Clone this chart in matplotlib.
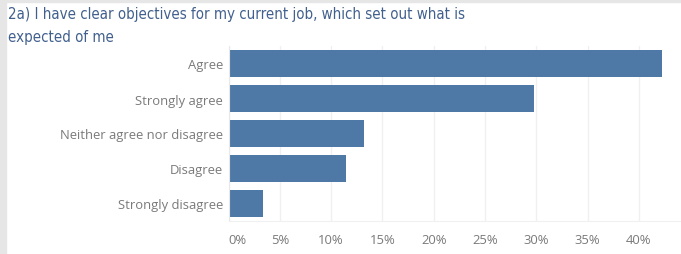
import matplotlib
matplotlib.use('Agg')
import matplotlib.pyplot as plt
from matplotlib.patches import Rectangle

# survey responses, percent of respondents
categories = ['Agree', 'Strongly agree', 'Neither agree nor disagree',
              'Disagree', 'Strongly disagree']
percents = [42.2, 29.8, 13.2, 11.5, 3.4]
ticks = [0, 5, 10, 15, 20, 25, 30, 35, 40]
title = '2a) I have clear objectives for my current job, which set out what is\nexpected of me'

plt.rcParams['font.family'] = ['Open Sans', 'DejaVu Sans']

W, H = 681, 255
fig = plt.figure(figsize=(W / 100, H / 100), dpi=100)

# grey frame on the left and top
fig.patches.append(Rectangle((0, 0), 6 / W, 1, transform=fig.transFigure,
                             color='#e6e6e6', zorder=0))
fig.patches.append(Rectangle((0, 1 - 3 / H), 1, 3 / H, transform=fig.transFigure,
                             color='#e6e6e6', zorder=0))

fig.text(8 / W, 1 - 7 / H, title, ha='left', va='top', fontsize=10.8,
         color='#41608e', linespacing=1.7, fontstretch='condensed',
         family=['DejaVu Sans'])

ax = fig.add_axes([228.5 / W, (H - 222) / H, (W - 228.5) / W, 175 / H])
y = list(range(len(categories)))
ax.barh(y, percents, height=0.75, color='#4e79a7', zorder=2)
ax.set_ylim(len(categories) - 0.5, -0.5)
ax.set_xlim(0, 44.1)
ax.set_yticks(y)
ax.set_yticklabels(categories)
ax.set_xticks(ticks)
ax.set_xticklabels([f'{t}%' for t in ticks])
ax.tick_params(axis='both', length=0, labelsize=9.4, labelcolor='#7a7a7a')
ax.tick_params(axis='x', pad=9)
ax.tick_params(axis='y', pad=4)
ax.get_xticklabels()[0].set_horizontalalignment('left')
ax.grid(axis='x', color='#f0f0f0', linewidth=1, zorder=0)
for side in ['top', 'right']:
    ax.spines[side].set_visible(False)
ax.spines['left'].set_color('#e8e8e8')
ax.spines['bottom'].set_color('#f0f0f0')

fig.savefig('out.png', dpi=100)
